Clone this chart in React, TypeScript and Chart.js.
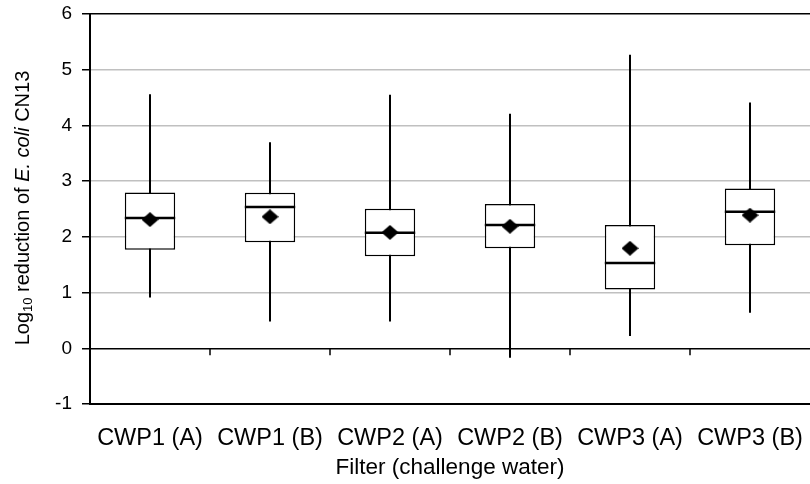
import { useEffect, useRef } from 'react';
import { Chart, registerables } from 'chart.js';
Chart.register(...registerables);

const categories = ['CWP1 (A)', 'CWP1 (B)', 'CWP2 (A)', 'CWP2 (B)', 'CWP3 (A)', 'CWP3 (B)'];
const mins = [0.91, 0.48, 0.48, -0.17, 0.22, 0.64];
const q1s = [1.77, 1.905, 1.65, 1.795, 1.055, 1.85];
const medians = [2.34, 2.535, 2.075, 2.215, 1.53, 2.45];
const q3s = [2.795, 2.79, 2.505, 2.59, 2.215, 2.87];
const maxs = [4.56, 3.7, 4.55, 4.21, 5.27, 4.41];
const means = [2.31, 2.36, 2.08, 2.19, 1.795, 2.39];

const FONT = "'Liberation Sans', Arial, sans-serif";

export default function App() {
  const ref = useRef<HTMLCanvasElement>(null);
  useEffect(() => {
    const canvas = ref.current!;
    const diamond = document.createElement('canvas');
    diamond.width = 17;
    diamond.height = 15;
    const dctx = diamond.getContext('2d')!;
    dctx.fillStyle = '#000';
    dctx.beginPath();
    dctx.moveTo(8.5, 0);
    dctx.lineTo(17, 7.5);
    dctx.lineTo(8.5, 15);
    dctx.lineTo(0, 7.5);
    dctx.closePath();
    dctx.fill();

    const boxPlugin = {
      id: 'boxParts',
      beforeDatasetsDraw(chart: any) {
        const { ctx, scales } = chart;
        const x = scales.x;
        const y = scales.y;
        ctx.save();
        ctx.strokeStyle = '#000';
        ctx.lineWidth = 1.5;
        const y0 = y.getPixelForValue(0);
        for (let i = 0; i < categories.length - 1; i++) {
          const bx = (x.getPixelForValue(i) + x.getPixelForValue(i + 1)) / 2;
          ctx.beginPath();
          ctx.moveTo(bx, y0);
          ctx.lineTo(bx, y0 + 7);
          ctx.stroke();
        }
        ctx.lineWidth = 2;
        for (let i = 0; i < categories.length; i++) {
          const cx = x.getPixelForValue(i);
          ctx.beginPath();
          ctx.moveTo(cx, y.getPixelForValue(mins[i]));
          ctx.lineTo(cx, y.getPixelForValue(maxs[i]));
          ctx.stroke();
        }
        ctx.restore();
      },
      afterDatasetDraw(chart: any, args: any) {
        if (args.index !== 0) return;
        const { ctx, scales } = chart;
        const y = scales.y;
        const meta = chart.getDatasetMeta(0);
        ctx.save();
        ctx.strokeStyle = '#000';
        ctx.lineWidth = 2.5;
        meta.data.forEach((bar: any, i: number) => {
          const p = bar.getProps(['x', 'width'], true);
          const my = y.getPixelForValue(medians[i]);
          ctx.beginPath();
          ctx.moveTo(p.x - p.width / 2, my);
          ctx.lineTo(p.x + p.width / 2, my);
          ctx.stroke();
        });
        ctx.restore();
      },
      afterDraw(chart: any) {
        const { ctx } = chart;
        const size = 20;
        const parts = [
          { t: 'Log', f: `${size}px ${FONT}`, dy: 0 },
          { t: '10', f: `${Math.round(size * 0.65)}px ${FONT}`, dy: 3 },
          { t: ' reduction of ', f: `${size}px ${FONT}`, dy: 0 },
          { t: 'E. coli', f: `italic ${size}px ${FONT}`, dy: 0 },
          { t: ' CN13', f: `${size}px ${FONT}`, dy: 0 },
        ];
        ctx.save();
        ctx.translate(0, 208);
        ctx.rotate(-Math.PI / 2);
        ctx.fillStyle = '#000';
        ctx.textBaseline = 'alphabetic';
        ctx.textAlign = 'left';
        let total = 0;
        parts.forEach((p) => {
          ctx.font = p.f;
          total += ctx.measureText(p.t).width;
        });
        let xx = -total / 2;
        parts.forEach((p) => {
          ctx.font = p.f;
          ctx.fillText(p.t, xx, 29 + p.dy);
          xx += ctx.measureText(p.t).width;
        });
        ctx.restore();
      },
    };

    const chart = new Chart(canvas, {
      type: 'bar',
      data: {
        labels: categories,
        datasets: [
          {
            type: 'bar',
            data: categories.map((_, i) => [q1s[i], q3s[i]]) as any,
            backgroundColor: '#fff',
            borderColor: '#000',
            borderWidth: 1.5,
            borderSkipped: false,
            barPercentage: 0.42,
            categoryPercentage: 1,
            order: 2,
          },
          {
            type: 'line',
            data: means,
            showLine: false,
            pointStyle: diamond as any,
            pointRadius: 8,
            order: 1,
          } as any,
        ],
      },
      options: {
        responsive: false,
        animation: false,
        events: [],
        layout: { autoPadding: false, padding: { top: 14, left: 0, right: 0, bottom: 0 } },
        plugins: { legend: { display: false }, tooltip: { enabled: false } },
        scales: {
          x: {
            grid: { display: false, drawTicks: false },
            border: { display: true, color: '#000', width: 2 },
            ticks: { color: '#000', font: { family: FONT, size: 23.5 }, padding: 20, maxRotation: 0, autoSkip: false },
            title: {
              display: true,
              text: 'Filter (challenge water)',
              color: '#000',
              font: { family: FONT, size: 22.5 },
              padding: { top: 0, bottom: 3 },
            },
            afterFit(s: any) {
              s.height = 80;
              s.paddingLeft = 0;
              s.paddingRight = 0;
            },
          },
          y: {
            min: -1,
            max: 6,
            ticks: { stepSize: 1, color: '#000', font: { family: FONT, size: 19 }, padding: 10 },
            grid: {
              color: (c: any) =>
                c.tick && (c.tick.value === 0 || c.tick.value === 6 || c.tick.value === -1) ? '#000' : '#c0c0c0',
              lineWidth: 1.5,
              tickColor: '#000',
              tickLength: 8,
              tickWidth: 1.5,
            },
            border: { color: '#000', width: 2 },
            afterFit(s: any) {
              s.width = 90;
              s.paddingTop = 0;
              s.paddingBottom = 0;
            },
          },
        },
      },
      plugins: [boxPlugin],
    });
    return () => chart.destroy();
  }, []);

  return (
    <div style={{ position: 'absolute', left: 0, top: 0, width: 810, height: 484, background: '#fff' }}>
      <canvas ref={ref} width={810} height={484} style={{ display: 'block' }} />
    </div>
  );
}
